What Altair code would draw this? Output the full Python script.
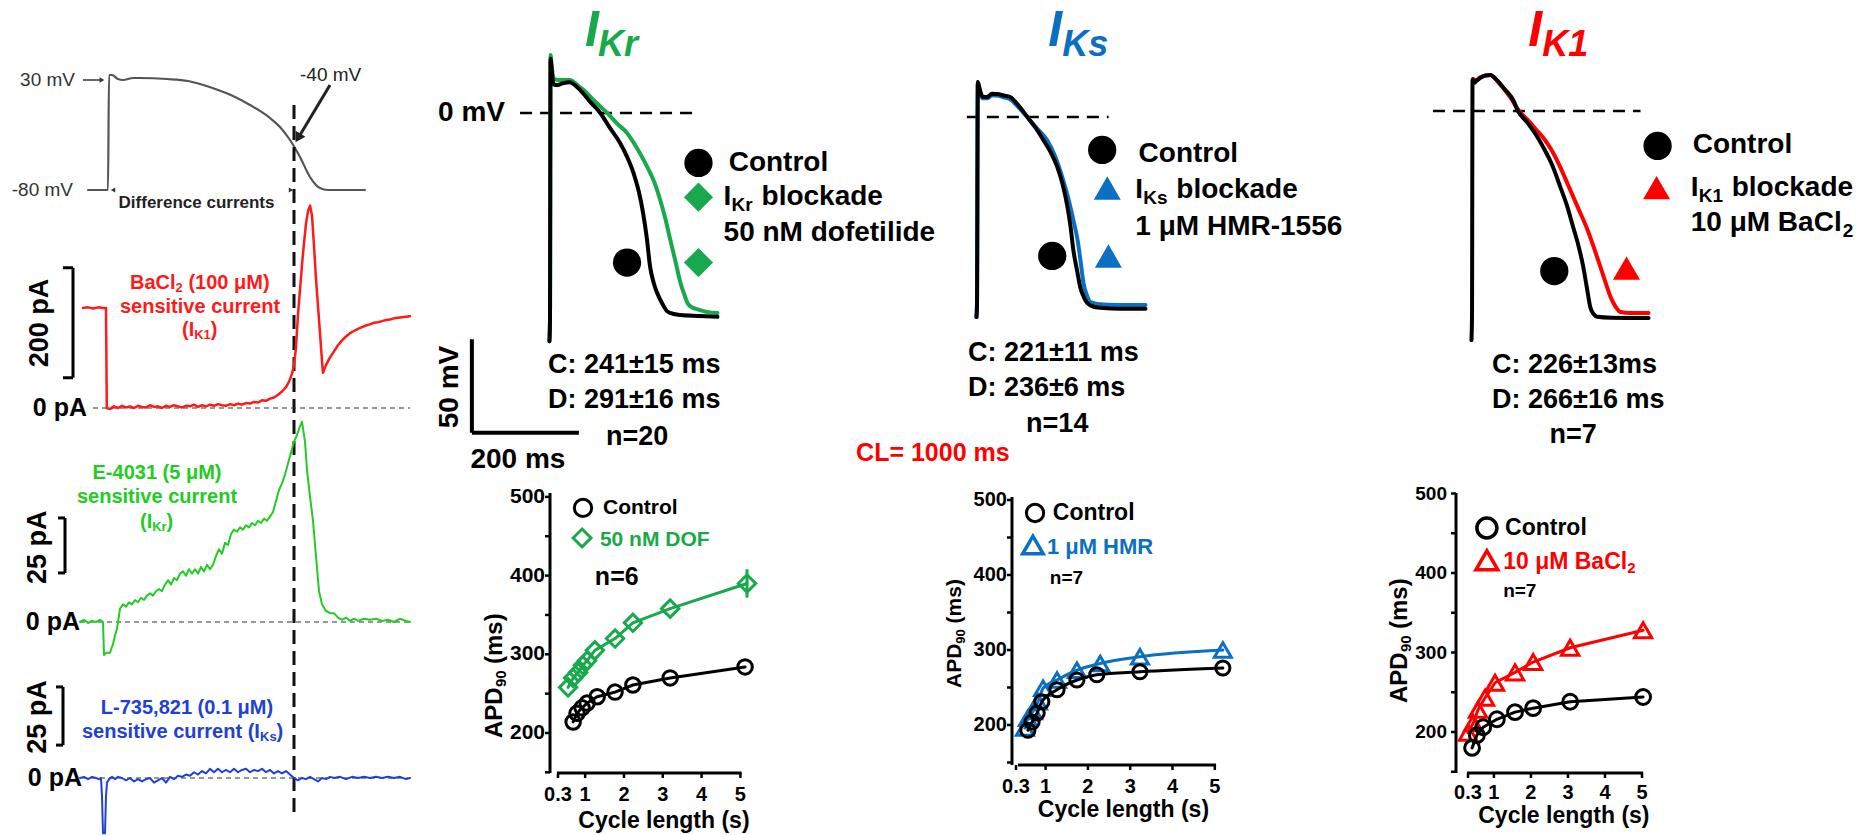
import altair as alt
import pandas as pd

FONT = "Liberation Sans"
M = 8  # page margin

# ---------------- data ----------------
# Left column: schematic action potential (t, mV)
AP_SCHEMA = [(-20, -80), (0, -80), (1, 35), (4, 35), (10, 31), (15, 30), (25, 32), (32, 32), (59, 31),
             (80, 29), (92, 26), (110, 20), (125, 14), (142, 5), (162, -8), (172, -17), (182, -30),
             (192, -47), (202, -67), (208, -75), (212, -78), (220, -80), (257, -80)]
# BaCl2-sensitive current (t, pA)
IK1_TRACE = [(-25, 182), (-20, 183), (-15, 181), (-10, 183), (-5, 182), (-2, 182), (-1.2, 0), (2, -2), (6, 3),
             (10, 0), (14, 4), (18, 1), (22, 3), (26, 0), (30, 4), (34, 2), (38, 1), (42, 5), (46, 2), (50, 3),
             (54, 0), (58, 4), (62, 2), (66, 5), (70, 3), (74, 1), (78, 4), (82, 3), (86, 6), (90, 2), (94, 5),
             (98, 3), (102, 6), (106, 4), (110, 7), (114, 5), (118, 4), (122, 7), (126, 5), (130, 8), (134, 6),
             (138, 9), (142, 8), (146, 11), (150, 10), (154, 14), (158, 13), (162, 17), (166, 19), (170, 24),
             (174, 30), (178, 38), (181, 48), (184, 62), (186, 78), (188, 110), (190, 170), (192, 215),
             (194, 260), (196, 300), (198, 335), (200, 358), (202, 368), (204, 350), (206, 295), (208, 235),
             (210, 185), (212, 136), (214, 85), (215, 64), (218, 78), (222, 92), (226, 103), (230, 114),
             (234, 123), (238, 130), (242, 136), (246, 140), (250, 144), (254, 147), (258, 150), (262, 152),
             (266, 155), (270, 156), (274, 158), (278, 160), (282, 161), (286, 163), (290, 164), (294, 165),
             (298, 166), (302, 167)]
# E-4031-sensitive current (t, pA)
IKR_TRACE = [(-28, 0), (-24, 1), (-20, -0.5), (-16, 0.5), (-12, 0), (-8, 1), (-5, 0), (-4, -15), (-2, -14),
             (2, -14), (5, -10), (7, -6), (9, -3), (12, 6), (15, 8), (18, 7), (21, 9), (24, 8), (27, 10),
             (30, 9), (33, 11), (36, 10), (39, 12), (42, 13), (45, 12), (48, 14), (51, 15), (54, 14), (57, 17),
             (60, 19), (63, 17), (66, 20), (69, 19), (72, 22), (75, 23), (78, 21), (81, 24), (84, 22), (87, 24),
             (90, 22), (93, 25), (96, 23), (99, 26), (102, 24), (105, 26), (108, 30), (111, 33), (114, 31),
             (117, 36), (120, 35), (123, 40), (126, 42), (129, 41), (132, 43), (135, 42), (138, 44), (141, 43),
             (144, 45), (147, 44), (150, 46), (153, 45), (156, 47), (159, 46), (162, 48), (165, 50), (168, 55),
             (171, 60), (174, 63), (177, 67), (180, 72), (183, 77), (186, 82), (189, 85), (192, 89), (194, 91),
             (197, 82), (199, 69), (202, 57), (205, 46), (208, 30), (211, 14), (214, 8), (218, 5), (222, 4),
             (226, 4), (230, 2), (234, 1), (238, 2), (242, 0.5), (246, 1.5), (250, 0.5), (256, 1.5), (262, 1),
             (268, 1.5), (274, 0.5), (280, 1), (286, 0), (292, 1.5), (298, 0.5), (302, 0)]
# L-735,821-sensitive current (t, pA)
IKS_TRACE = [(-28, 0), (-24, 0.5), (-20, -0.5), (-16, 0.5), (-12, 0), (-9, -0.5), (-7, 0), (-6, -8), (-5, -24),
             (-3, -24), (-2, -8), (-1, -2), (1, -0.5), (4, 0.5), (7, -0.5), (10, 0.5), (14, 0), (18, -1), (22, 0),
             (26, -1.5), (30, -0.5), (34, -1.5), (38, -0.5), (42, 0), (46, -2), (50, -1), (54, 0), (58, -2),
             (62, 0.5), (66, -0.5), (70, 1), (74, 0.5), (78, 1.5), (82, 1), (86, 2.5), (90, 1.5), (94, 3),
             (98, 2), (102, 4), (106, 2.5), (110, 4), (114, 2.5), (118, 3.5), (122, 2.5), (126, 4), (130, 2.5),
             (134, 3.5), (138, 4), (142, 2.5), (146, 3.5), (150, 3), (154, 4), (158, 2.5), (162, 3.5), (166, 2),
             (170, 3), (174, 2), (178, 3), (182, 1.5), (186, 0), (190, -1), (194, 0), (198, -0.5), (202, 0.5),
             (206, -0.5), (210, -1.5), (214, 0), (218, -0.5), (222, 0.5), (226, 0), (232, 0.5), (238, -0.5),
             (244, 0.5), (250, 0), (256, 0.5), (262, 0), (268, 0.5), (274, 0), (280, 0.5), (286, 0), (292, 0.5),
             (298, -0.5), (302, 0)]

# Top row: action potentials (t in ms, V in mV)
KR_CTRL = [(-1, -122), (0, -110), (1, 29), (3, 24), (6, 16), (9, 15), (14, 15), (25, 16), (37, 16.5), (50, 14),
           (62, 10.5), (75, 6), (94, 0), (112, -8), (131, -16), (145, -24), (156, -32), (166, -42), (174, -53.5),
           (181, -67), (187, -82), (194, -91), (200, -96), (210, -102), (219, -106), (232, -107.5), (244, -108),
           (280, -108.5), (313, -109)]
KR_DOF = [(-1, -122), (0, -110), (1, 31), (3, 26), (6, 19), (10, 18), (19, 17.6), (37, 17.6), (55, 14), (68, 11),
          (81, 7), (94, 3.5), (107, 0), (125, -5.5), (144, -10.7), (163, -19), (182, -29), (195, -37),
          (206, -46.5), (216, -57), (225, -68), (235, -80), (244, -91), (251, -97), (257, -101.6), (266, -104),
          (276, -105), (295, -106.5), (313, -107)]
KS_CTRL = [(-1, -107), (0, -100), (1.5, 18.7), (5, 15), (10, 11), (19, 10.7), (28, 12.5), (38, 12.3), (50, 11.5),
           (62, 10.7), (78, 6), (94, 0), (110, -6), (124, -12.3), (138, -19), (150, -26.7), (160, -36),
           (169, -48), (175, -59), (180, -71), (187, -82), (193, -91), (200, -96.5), (206, -99.5),
           (218, -101.5), (231, -102), (270, -102.5), (315, -102.5)]
KS_HMR = [(-1, -107), (0, -100), (1.5, 18), (5, 14), (10, 10), (19, 10), (28, 11.5), (38, 11.5), (50, 10.5),
          (62, 9.5), (78, 5), (94, 0), (112, -6), (131, -12.3), (146, -21), (161, -33.7), (172, -45), (180, -55),
          (188, -65.8), (194, -78), (199, -88.8), (205, -95), (212, -99), (225, -100), (260, -100.5),
          (315, -100.5)]
K1_CTRL = [(-1, -122.5), (0, -110), (1, 17), (4, 15), (8, 16), (15, 17.6), (25, 19), (34, 19.3), (45, 17),
           (60, 12), (77, 5.9), (86, 0), (103, -6), (118, -12), (133, -19.3), (150, -29), (165, -40.6),
           (178, -51), (189, -62), (199, -72), (208, -83.4), (215, -95), (221, -104.8), (227, -108.5),
           (234, -110), (260, -110.5), (330, -110.7)]
K1_BA = [(3, 17), (8, 16.5), (15, 18), (34, 19.3), (50, 15), (70, 8), (88, 0), (105, -5), (120, -10), (135, -15),
         (150, -21.5), (165, -30), (178, -38.5), (197, -51), (216, -63.6), (229, -74), (240, -83.4), (250, -92),
         (259, -99.5), (268, -104.5), (277.5, -107.5), (295, -108), (330, -108)]

# Bottom row: APD90 (ms) vs cycle length (s)
DOF_CL_C = [0.69, 0.79, 0.92, 1.05, 1.31, 1.77, 2.23, 3.19, 5.12]
DOF_APD_C = [214, 225, 232, 238, 246, 252, 261, 270, 284]
DOF_CL_D = [0.56, 0.69, 0.82, 0.94, 1.05, 1.25, 1.77, 2.23, 3.19, 5.17]
DOF_APD_D = [258, 270, 277, 286, 292, 305, 320, 340, 358, 390]
DOF_SEM_LAST = 18
HMR_CL_C = [0.58, 0.68, 0.80, 0.91, 1.27, 1.74, 2.21, 3.23, 5.19]
HMR_APD_C = [193, 204, 216, 231, 247, 260, 267, 271, 276]
HMR_CL_D = [0.51, 0.58, 0.70, 0.82, 0.94, 1.27, 1.74, 2.29, 3.23, 5.19]
HMR_APD_D = [196, 209, 218, 231, 249, 260, 273, 282, 291, 300]
BA_CL_C = [0.41, 0.54, 0.71, 1.08, 1.57, 2.06, 3.06, 5.03]
BA_APD_C = [180, 196, 206, 216, 225, 230, 238, 244]
BA_CL_D = [0.30, 0.44, 0.57, 0.76, 1.03, 1.57, 2.06, 3.06, 5.03]
BA_APD_D = [199, 211, 228, 243, 262, 275, 288, 306, 328]

Y_TICKS = [150, 200, 250, 300, 350, 400, 450, 500]
Y_TICK_LABELS = [200, 300, 400, 500]
X_TICKS = [0.3, 1, 2, 3, 4, 5]
X_TICK_LABELS = ["0.3", "1", "2", "3", "4", "5"]

# ---------------- colours ----------------
C_KR = "#17A94C"
C_KS = "#0B6FC2"
C_K1 = "#FF0000"
L_RED = "#FF1A1A"
L_GREEN = "#22CC22"
L_BLUE = "#2140D4"
GRAY = "#555555"


# ---------------- helpers ----------------
def scale(d0, d1, p0, p1):
    return alt.Scale(domain=[d0, d1], range=[p0 - M, p1 - M], nice=False, zero=False)


def _xy(ch, S):
    sx, sy = S
    return ch.encode(x=alt.X("x", type="quantitative", scale=sx, axis=None),
                     y=alt.Y("y", type="quantitative", scale=sy, axis=None))


def line(S, pts, color, width, interp="linear", dash=None):
    d = pd.DataFrame(pts, columns=["x", "y"])
    d["o"] = range(len(d))
    kw = dict(color=color, strokeWidth=width, interpolate=interp, strokeJoin="round", strokeCap="round")
    if dash:
        kw["strokeDash"] = dash
    return _xy(alt.Chart(d).mark_line(**kw), S).encode(order=alt.Order("o", type="quantitative"))


def xyline(S, xs, ys, color, width, interp="linear"):
    return line(S, list(zip(xs, ys)), color, width, interp)


def rules(S, x, y, x2=None, y2=None, color="black", width=2.0, dash=None):
    vals = {"x": x, "y": y, "x2": x2, "y2": y2}
    lens = [len(v) for v in vals.values() if isinstance(v, list)]
    n = max(lens) if lens else 1
    cols = {k: (v if isinstance(v, list) else [v] * n) for k, v in vals.items() if v is not None}
    kw = dict(color=color, strokeWidth=width)
    if dash:
        kw["strokeDash"] = dash
    ch = _xy(alt.Chart(pd.DataFrame(cols)).mark_rule(**kw), S)
    extra = {}
    if x2 is not None:
        extra["x2"] = alt.X2("x2")
    if y2 is not None:
        extra["y2"] = alt.Y2("y2")
    return ch.encode(**extra)


def pts(S, xs, ys, shape, size, color, filled=False, sw=2.5, angle=0):
    d = pd.DataFrame({"x": xs, "y": ys})
    kw = dict(shape=shape, size=size, color=color, filled=filled, opacity=1, strokeWidth=sw, angle=angle)
    return _xy(alt.Chart(d).mark_point(**kw), S)


def txts(S, xs, ys, labels, size, color="black", align="left", baseline="middle", weight="bold",
         angle=0, dx=0, dy=0, style="normal"):
    d = pd.DataFrame({"x": xs, "y": ys, "s": labels})
    ch = alt.Chart(d).mark_text(font=FONT, fontSize=size, fontWeight=weight, fontStyle=style, color=color,
                                align=align, baseline=baseline, angle=angle, dx=dx, dy=dy)
    return _xy(ch, S).encode(text=alt.Text("s", type="nominal"))


def txt(S, x, y, s, size, **kw):
    return txts(S, [x], [y], [s], size, **kw)


# ---------------- scales (layout) ----------------
LX = scale(-100, 310, 8, 418)
S_AP = (LX, scale(-80, 30, 190, 80))
S_IK1 = (LX, scale(0, 200, 408, 298))
S_IKR = (LX, scale(0, 25, 622, 567))
S_IKS = (LX, scale(0, 25, 778, 720.5))

K = 107 / 200.0
MV = 1.87


def top_S(x0, y0):
    return (scale(-200, 400, x0 - 200 * K, x0 + 400 * K), scale(-200, 50, y0 + 200 * MV, y0 - 50 * MV))


S_KR = top_S(550, 113)
S_KS = top_S(977, 117)
S_K1 = top_S(1472, 111)

S_P1 = (scale(0.3, 5, 558, 740.4), scale(200, 500, 733, 496.9))
S_P2 = (scale(0.3, 5, 1016, 1214.8), scale(200, 500, 725, 500))
S_P3 = (scale(0.3, 5, 1468, 1642), scale(200, 500, 732, 493.5))

panels = []

# ---------------- left column ----------------
L = [
    line(S_AP, AP_SCHEMA, GRAY, 2.2, "monotone"),
    txt(S_AP, -33, 30, "30 mV", 19, color="#333333", weight="normal", align="right"),
    rules(S_AP, -25, 30, x2=-8, color="#333333", width=1.5),
    pts(S_AP, [-6], [30], "triangle-right", 30, "#333333", filled=True, sw=0),
    txt(S_AP, -35, -80, "-80 mV", 19, color="#333333", weight="normal", align="right"),
    txt(S_AP, 192, 35, "-40 mV", 19, color="#222222", weight="normal"),
    rules(S_AP, 222, 25, x2=192, y2=-25, color="#222222", width=3),
    pts(S_AP, [190], [-28], "triangle-up", 130, "#222222", filled=True, sw=0, angle=211),
    pts(S_AP, [5], [-80], "triangle-left", 25, "#333333", filled=True, sw=0),
    pts(S_AP, [183], [-80], "triangle-right", 25, "#333333", filled=True, sw=0),
    txt(S_AP, 88.5, -93, "Difference currents", 17, color="#222222", align="center"),
    rules(S_AP, 186, 5, y2=-708, color="#111111", width=3, dash=[14, 7]),
]
panels.append(alt.layer(*L))

L = [
    rules(S_IK1, -15, 0, x2=302, color="#333333", width=1.2, dash=[5, 4]),
    line(S_IK1, IK1_TRACE, L_RED, 2.5),
    txt(S_IK1, -21, 0, "0 pA", 25, align="right"),
    rules(S_IK1, -35, 55, y2=255, width=3),
    rules(S_IK1, [-45, -45], [55, 255], x2=[-35, -35], width=3),
    txt(S_IK1, -68, 154.5, "200 pA", 27, align="center", angle=270),
    txt(S_IK1, 22, 227, "BaCl", 20, color=L_RED),
    txt(S_IK1, 22, 227, "2", 13, color=L_RED, dx=45.6, dy=5),
    txt(S_IK1, 22, 227, "(100 μM)", 20, color=L_RED, dx=58.4),
    txt(S_IK1, 92, 184, "sensitive current", 20, color=L_RED, align="center"),
    txt(S_IK1, 74, 142, "(I", 20, color=L_RED),
    txt(S_IK1, 74, 142, "K1", 13, color=L_RED, dx=12.2, dy=5),
    txt(S_IK1, 74, 142, ")", 20, color=L_RED, dx=28.8),
]
panels.append(alt.layer(*L))

L = [
    rules(S_IKR, -28, 0, x2=302, color="#333333", width=1.2, dash=[5, 4]),
    line(S_IKR, IKR_TRACE, L_GREEN, 2),
    txt(S_IKR, -28, 0, "0 pA", 25, align="right"),
    rules(S_IKR, -43, 22.3, y2=47.3, width=3),
    rules(S_IKR, [-50, -50], [22.3, 47.3], x2=[-43, -43], width=3),
    txt(S_IKR, -70, 34, "25 pA", 27, align="center", angle=270),
    txt(S_IKR, 49, 67.7, "E-4031 (5 μM)", 20, color=L_GREEN, align="center"),
    txt(S_IKR, 49, 56.8, "sensitive current", 20, color=L_GREEN, align="center"),
    txt(S_IKR, 32, 45.5, "(I", 20, color=L_GREEN),
    txt(S_IKR, 32, 45.5, "Kr", 13, color=L_GREEN, dx=12.2, dy=5),
    txt(S_IKR, 32, 45.5, ")", 20, color=L_GREEN, dx=26.6),
]
panels.append(alt.layer(*L))

L = [
    rules(S_IKS, -26, 0, x2=302, color="#333333", width=1.2, dash=[5, 4]),
    line(S_IKS, IKS_TRACE, L_BLUE, 2),
    txt(S_IKS, -26, 0, "0 pA", 25, align="right"),
    rules(S_IKS, -45, 14.3, y2=39.6, width=3),
    rules(S_IKS, [-52, -52], [14.3, 39.6], x2=[-45, -45], width=3),
    txt(S_IKS, -70, 26.5, "25 pA", 27, align="center", angle=270),
    txt(S_IKS, 79, 30.4, "L-735,821 (0.1 μM)", 20, color=L_BLUE, align="center"),
    txt(S_IKS, -26, 20, "sensitive current (I", 20, color=L_BLUE),
    txt(S_IKS, -26, 20, "Ks", 13, color=L_BLUE, dx=178, dy=5),
    txt(S_IKS, -26, 20, ")", 20, color=L_BLUE, dx=194.4),
]
panels.append(alt.layer(*L))


# ---------------- top row ----------------
def sub_label(S, x, y, base, sub, rest, size=28, subsize=19, dx_sub=8, dx_rest=38, dy_sub=8, color="black"):
    return [txt(S, x, y, base, size, color=color),
            txt(S, x, y, sub, subsize, color=color, dx=dx_sub, dy=dy_sub),
            txt(S, x, y, rest, size, color=color, dx=dx_rest)]


def title(S, x, y, sub, color, dx_sub):
    return [txt(S, x, y, "I", 50, color=color, baseline="alphabetic", style="italic"),
            txt(S, x, y, sub, 36, color=color, baseline="alphabetic", style="italic", dx=dx_sub, dy=10)]


L = [
    rules(S_KR, -56, 0, x2=276, width=2.5, dash=[12, 8]),
    line(S_KR, KR_DOF, C_KR, 4, "monotone"),
    line(S_KR, KR_CTRL, "black", 4, "monotone"),
    pts(S_KR, [144, 277.5], [-80, -26.7], "circle", 800, "black", filled=True, sw=0),
    pts(S_KR, [277.5, 277.5], [-80, -45], "diamond", 850, C_KR, filled=True, sw=0),
    txt(S_KR, 334, -26.7, "Control", 28),
    *sub_label(S_KR, 324.4, -45, "I", "Kr", "blockade", dx_rest=38),
    txt(S_KR, 324.4, -64.2, "50 nM dofetilide", 28),
    txt(S_KR, -3.75, -134.8, "C: 241±15 ms", 27),
    txt(S_KR, -3.75, -153.5, "D: 291±16 ms", 27),
    txt(S_KR, 163, -173, "n=20", 27, align="center"),
    txt(S_KR, -84, 0, "0 mV", 28, align="right"),
    rules(S_KR, -146, -171, y2=-121, width=4),
    rules(S_KR, -146, -171, x2=54, width=4),
    txt(S_KR, -187.5, -146.5, "50 mV", 28, align="center", angle=270),
    txt(S_KR, -60, -185.6, "200 ms", 28, align="center"),
    *title(S_KR, 65.6, 35.8, "Kr", C_KR, 13),
]
panels.append(alt.layer(*L))

L = [
    rules(S_KS, -19, 0, x2=246, width=2.5, dash=[12, 8]),
    line(S_KS, KS_HMR, C_KS, 4, "monotone"),
    line(S_KS, KS_CTRL, "black", 4, "monotone"),
    pts(S_KS, [140.6, 234], [-74.3, -17.6], "circle", 800, "black", filled=True, sw=0),
    pts(S_KS, [245.6, 243.5], [-74.3, -38], "triangle-up", 730, C_KS, filled=True, sw=0),
    txt(S_KS, 302, -20, "Control", 28),
    *sub_label(S_KS, 296, -39, "I", "Ks", "blockade", dx_rest=41),
    txt(S_KS, 296, -59, "1 μM HMR-1556", 28),
    txt(S_KS, -16.9, -126, "C: 221±11 ms", 27),
    txt(S_KS, -16.9, -145, "D: 236±6 ms", 27),
    txt(S_KS, 150, -164, "n=14", 27, align="center"),
    txt(S_KS, -82.5, -179.7, "CL= 1000 ms", 25, color="#FF0000", align="center"),
    *title(S_KS, 133, 38, "Ks", C_KS, 14),
]
panels.append(alt.layer(*L))

L = [
    rules(S_K1, -73, 0, x2=315, width=2.5, dash=[12, 8]),
    line(S_K1, K1_BA, C_K1, 4, "monotone"),
    line(S_K1, K1_CTRL, "black", 4, "monotone"),
    pts(S_K1, [153.8, 346.9], [-85.6, -18.7], "circle", 800, "black", filled=True, sw=0),
    pts(S_K1, [288.8, 345], [-84, -41], "triangle-up", 730, C_K1, filled=True, sw=0),
    txt(S_K1, 412.5, -18.2, "Control", 28),
    *sub_label(S_K1, 408.8, -41.2, "I", "K1", "blockade", dx_rest=41),
    txt(S_K1, 408.8, -60, "10 μM BaCl", 28),
    txt(S_K1, 408.8, -60, "2", 19, dx=152, dy=8),
    txt(S_K1, 37.5, -136, "C: 226±13ms", 27),
    txt(S_K1, 37.5, -154.5, "D: 266±16 ms", 27),
    txt(S_K1, 189, -173, "n=7", 27, align="center"),
    *title(S_K1, 105, 34.8, "K1", C_K1, 14),
]
panels.append(alt.layer(*L))


# ---------------- bottom row ----------------
def apd_axes(S, yx, ytl, xy, xtl, ytop, x0, ylx, yls, xly):
    n = len(Y_TICKS)
    m = len(X_TICKS)
    return [
        rules(S, yx, xy, y2=ytop, width=3),
        rules(S, x0, xy, x2=5.03, width=3),
        rules(S, [yx - ytl] * n, Y_TICKS, x2=[yx] * n, width=2.5),
        rules(S, X_TICKS, [xy] * m, y2=[xy - xtl] * m, width=2.5),
        txts(S, [ylx] * len(Y_TICK_LABELS), Y_TICK_LABELS, [str(v) for v in Y_TICK_LABELS], yls, align="right"),
        txts(S, X_TICKS, [xly] * m, X_TICK_LABELS, 20, align="center"),
    ]


def apd_titles(S, yt_x, yt_y, ysize, subsize, dx_sub, dx_rest, xt_x, xt_y):
    return [
        txt(S, yt_x, yt_y, "APD", ysize, angle=270),
        txt(S, yt_x, yt_y, "90", subsize, angle=270, dx=dx_sub, dy=6),
        txt(S, yt_x, yt_y, "(ms)", ysize, angle=270, dx=dx_rest),
        txt(S, xt_x, xt_y, "Cycle length (s)", 23, align="center"),
    ]


L = [
    *apd_axes(S_P1, 0.094, 0.129, 149.2, 6.35, 505, 0.274, -0.035, 21, 121),
    *apd_titles(S_P1, -1.32, 193.6, 24, 15, 51, 74, 3.03, 88.5),
    xyline(S_P1, DOF_CL_D, DOF_APD_D, C_KR, 3),
    xyline(S_P1, DOF_CL_C, DOF_APD_C, "black", 3),
    rules(S_P1, DOF_CL_D[-1], DOF_APD_D[-1] - DOF_SEM_LAST, y2=DOF_APD_D[-1] + DOF_SEM_LAST, color=C_KR, width=3),
    pts(S_P1, DOF_CL_D, DOF_APD_D, "diamond", 300, C_KR, sw=3),
    pts(S_P1, DOF_CL_C, DOF_APD_C, "circle", 210, "black", sw=3),
    pts(S_P1, [0.944], [486], "circle", 300, "black", sw=3),
    txt(S_P1, 1.46, 486, "Control", 21),
    pts(S_P1, [0.92], [447.8], "diamond", 320, C_KR, sw=3),
    txt(S_P1, 1.38, 445, "50 nM DOF", 21, color=C_KR),
    txt(S_P1, 1.25, 398, "n=6", 25),
]
panels.append(alt.layer(*L))

L = [
    *apd_axes(S_P2, 0.205, 0.118, 146.7, 6.7, 504, 0.347, 0.087, 20, 117.3),
    *apd_titles(S_P2, -1.14, 249.3, 21, 13, 44.3, 64.6, 2.84, 86.7),
    xyline(S_P2, HMR_CL_D, HMR_APD_D, C_KS, 3, "monotone"),
    pts(S_P2, HMR_CL_D, HMR_APD_D, "triangle-up", 290, C_KS, sw=3),
    xyline(S_P2, HMR_CL_C, HMR_APD_C, "black", 3, "monotone"),
    pts(S_P2, HMR_CL_C, HMR_APD_C, "circle", 200, "black", sw=3),
    pts(S_P2, [0.75], [482.7], "circle", 300, "black", sw=3),
    txt(S_P2, 1.17, 482.7, "Control", 23),
    pts(S_P2, [0.70], [440], "triangle-up", 420, C_KS, sw=3.5),
    txt(S_P2, 1.03, 437, "1 μM HMR", 22, color=C_KS),
    txt(S_P2, 1.10, 396, "n=7", 19),
]
panels.append(alt.layer(*L))

L = [
    *apd_axes(S_P3, -0.024, 0.135, 148.4, 6.3, 500.6, 0.273, -0.268, 19, 123.3),
    *apd_titles(S_P3, -1.54, 236.5, 24, 15, 51, 74, 2.89, 94),
    xyline(S_P3, BA_CL_D, BA_APD_D, C_K1, 3),
    pts(S_P3, BA_CL_D, BA_APD_D, "triangle-up", 300, C_K1, sw=3),
    xyline(S_P3, BA_CL_C, BA_APD_C, "black", 3),
    pts(S_P3, BA_CL_C, BA_APD_C, "circle", 220, "black", sw=3),
    pts(S_P3, [0.81], [456.6], "circle", 400, "black", sw=3.5),
    txt(S_P3, 1.3, 456.6, "Control", 23),
    pts(S_P3, [0.81], [416], "triangle-up", 480, C_K1, sw=3.5),
    txt(S_P3, 1.25, 414, "10 μM BaCl", 23, color=C_K1),
    txt(S_P3, 1.25, 414, "2", 15, color=C_K1, dx=124, dy=6),
    txt(S_P3, 1.25, 377, "n=7", 19),
]
panels.append(alt.layer(*L))

chart = (
    alt.layer(*panels)
    .resolve_scale(x="independent", y="independent")
    .properties(width=1852, height=827, padding=0, background="white",
                autosize=alt.AutoSizeParams(type="none"))
    .configure_view(stroke=None)
)

chart.save("out.html", embed_options={"renderer": "svg", "actions": False})
